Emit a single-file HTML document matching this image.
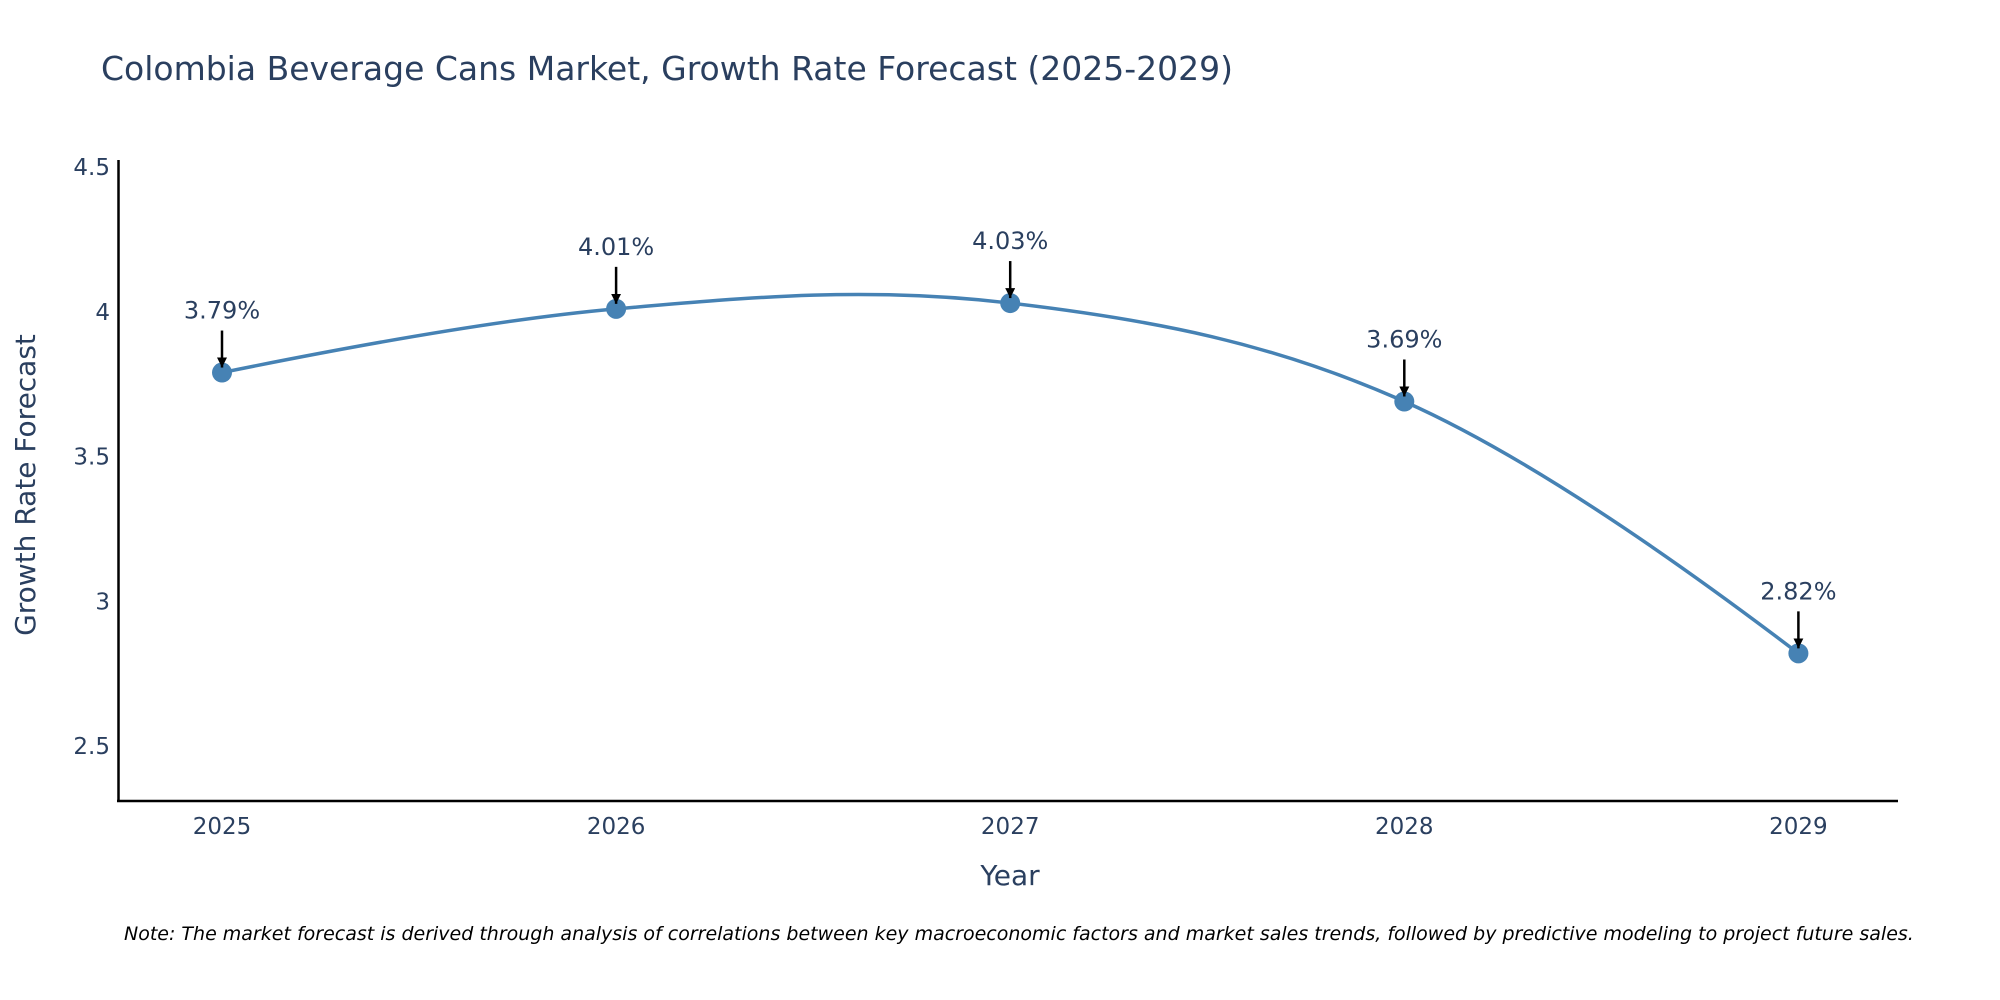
<!DOCTYPE html>
<html><head><meta charset="utf-8"><style>
body{margin:0;background:#fff;}
svg{display:block;font-family:"DejaVu Sans","Liberation Sans",sans-serif;}
</style></head><body>
<svg id="chart" width="2000" height="1000" viewBox="0 0 2000 1000">
<defs><marker id="ah" viewBox="0 0 10 10" refX="10" refY="5" markerWidth="4" markerHeight="4" orient="auto"><path d="M0,0L10,5L0,10z" fill="#000"/></marker></defs>
<text x="101" y="80" font-size="33" fill="#2a3f5f">Colombia Beverage Cans Market, Growth Rate Forecast (2025-2029)</text>
<g id="yticks"></g><g id="xticks"></g>
<line x1="118.5" y1="160" x2="118.5" y2="802" stroke="#000" stroke-width="2.5"/>
<line x1="117" y1="801" x2="1898" y2="801" stroke="#000" stroke-width="2.5"/>
<text transform="translate(35,485) rotate(-90)" text-anchor="middle" font-size="28" fill="#2a3f5f">Growth Rate Forecast</text>
<text x="1010" y="885" text-anchor="middle" font-size="28" fill="#2a3f5f">Year</text>
<path id="line" fill="none" stroke="#4682b4" stroke-width="3.5"/>
<g id="pts"></g>
<text x="124" y="940" font-size="19" font-style="italic" fill="#000">Note: The market forecast is derived through analysis of correlations between key macroeconomic factors and market sales trends, followed by predictive modeling to project future sales.</text>
</svg>
<script>
const years=[2025,2026,2027,2028,2029];
const values=[3.79,4.01,4.03,3.69,2.82];
const labels=["3.79%","4.01%","4.03%","3.69%","2.82%"];
const yTicks=[2.5,3,3.5,4,4.5];
const yTickLabels=["2.5","3","3.5","4","4.5"];
const NS="http://www.w3.org/2000/svg";
const X=v=>222+(v-2025)*394.1;
const Y=v=>167+(4.5-v)*289.5;
function mk(t,a,p){const e=document.createElementNS(NS,t);for(const k in a)e.setAttribute(k,a[k]);p.appendChild(e);return e;}
const yt=document.getElementById('yticks');
yTicks.forEach((v,i)=>{const t=mk('text',{x:110,y:Y(v)+8,'text-anchor':'end','font-size':23,fill:'#2a3f5f'},yt);t.textContent=yTickLabels[i];

});
const xt=document.getElementById('xticks');
years.forEach(v=>{const t=mk('text',{x:X(v),y:834,'text-anchor':'middle','font-size':23,fill:'#2a3f5f'},xt);t.textContent=v;

});
const P=years.map((y,i)=>[X(y),Y(values[i])]);
const cps=[];
for(let i=1;i<P.length-1;i++){const a=P[i-1],b=P[i],c=P[i+1];
const d1=Math.hypot(b[0]-a[0],b[1]-a[1]),d2=Math.hypot(c[0]-b[0],c[1]-b[1]);
const dx=c[0]-a[0],dy=c[1]-a[1],s=0.36;
cps[i]=[[b[0]-dx*s*d1/(d1+d2),b[1]-dy*s*d1/(d1+d2)],[b[0]+dx*s*d2/(d1+d2),b[1]+dy*s*d2/(d1+d2)]];}
let d=`M${P[0][0]},${P[0][1]}Q${cps[1][0][0]},${cps[1][0][1]} ${P[1][0]},${P[1][1]}`;
for(let i=1;i<P.length-2;i++){d+=`C${cps[i][1][0]},${cps[i][1][1]} ${cps[i+1][0][0]},${cps[i+1][0][1]} ${P[i+1][0]},${P[i+1][1]}`;}
const n=P.length-1;d+=`Q${cps[n-1][1][0]},${cps[n-1][1][1]} ${P[n][0]},${P[n][1]}`;
document.getElementById('line').setAttribute('d',d);
const g=document.getElementById('pts');
P.forEach((p,i)=>{const c=mk('circle',{cx:p[0],cy:p[1],r:10,fill:'#4682b4'},g);


const l=mk('line',{x1:p[0],y1:p[1]-42,x2:p[0],y2:p[1]-5,stroke:'#000','stroke-width':2.5,'marker-end':'url(#ah)'},g);


const t=mk('text',{x:p[0],y:p[1]-54,'text-anchor':'middle','font-size':24,fill:'#2a3f5f'},g);t.textContent=labels[i];

});
</script>
</body></html>
